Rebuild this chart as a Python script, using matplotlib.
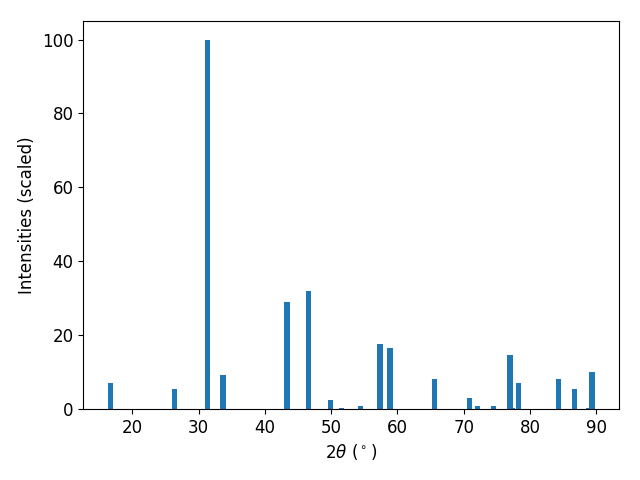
import matplotlib
matplotlib.use("Agg")
import matplotlib.pyplot as plt

two_theta = [16.64, 26.36, 31.34, 33.68, 43.33, 46.62, 49.9, 51.55, 54.4,
             57.36, 58.87, 65.58, 70.86, 72.07, 74.48, 77.0, 77.3, 78.25,
             84.28, 86.69, 88.9, 89.36]
intensities = [7.0, 5.3, 100.0, 9.1, 29.0, 32.0, 2.4, 0.3, 0.8,
               17.5, 16.4, 8.0, 2.9, 0.8, 0.8, 14.5, 0.2, 6.9,
               8.0, 5.3, 0.2, 9.9]

plt.rcParams["font.size"] = 12
fig, ax = plt.subplots(figsize=(6.4, 4.8))
ax.bar(two_theta, intensities, width=0.8)
ax.set_xlabel(r"$2\theta$ ($^\circ$)")
ax.set_ylabel("Intensities (scaled)")
fig.subplots_adjust(left=0.13, right=0.967, top=0.956, bottom=0.148)
plt.savefig("out.png")
